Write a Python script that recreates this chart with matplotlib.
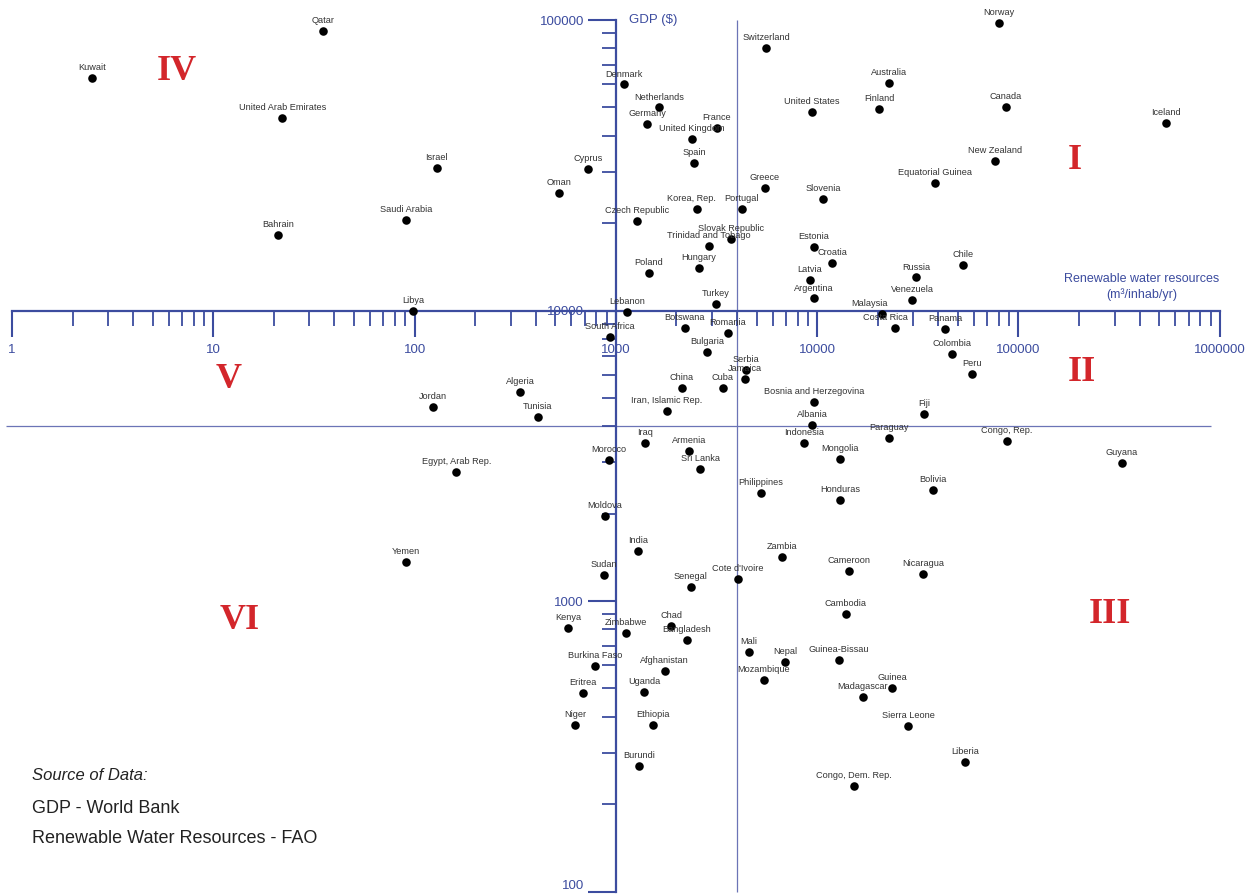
import matplotlib
matplotlib.use("Agg")
import matplotlib.pyplot as plt
from matplotlib.ticker import FixedLocator, FuncFormatter, NullFormatter

plt.rcParams["font.family"] = ["Liberation Sans", "DejaVu Sans"]

# renewable water resources (m3/inhab/yr) and GDP per capita ($)
countries = [
    "Qatar", "Kuwait", "United Arab Emirates", "Israel", "Saudi Arabia", "Bahrain", "Libya",
    "Switzerland", "Denmark", "Netherlands", "Germany", "France", "United Kingdom", "Spain",
    "Cyprus", "Oman", "Greece", "Korea, Rep.", "Portugal", "Czech Republic", "Slovak Republic",
    "Trinidad and Tobago", "Hungary", "Poland", "Turkey", "Lebanon", "Botswana", "Romania",
    "South Africa", "Norway", "Australia", "United States", "Finland", "Canada", "Iceland",
    "New Zealand", "Equatorial Guinea", "Slovenia", "Estonia", "Croatia", "Latvia", "Argentina",
    "Chile", "Russia", "Venezuela", "Malaysia", "Costa Rica", "Panama", "Colombia", "Bulgaria",
    "Serbia", "Jamaica", "Cuba", "China", "Iran, Islamic Rep.", "Iraq", "Armenia", "Morocco",
    "Sri Lanka", "Peru", "Bosnia and Herzegovina", "Fiji", "Albania", "Indonesia", "Paraguay",
    "Congo, Rep.", "Mongolia", "Guyana", "Bolivia", "Honduras", "Philippines", "Jordan",
    "Algeria", "Tunisia", "Egypt, Arab Rep.", "Moldova", "Yemen", "India", "Sudan", "Zambia",
    "Cameroon", "Nicaragua", "Cote d'Ivoire", "Senegal", "Cambodia", "Chad", "Bangladesh",
    "Zimbabwe", "Kenya", "Mali", "Nepal", "Guinea-Bissau", "Mozambique", "Burkina Faso",
    "Afghanistan", "Eritrea", "Uganda", "Niger", "Ethiopia", "Burundi", "Guinea", "Madagascar",
    "Sierra Leone", "Liberia", "Congo, Dem. Rep.",
]
water = [
    35, 2.5, 22, 129, 91, 21, 98,
    5600, 1100, 1640, 1430, 3180, 2390, 2440,
    730, 520, 5500, 2530, 4230, 1270, 3730,
    2900, 2590, 1460, 3140, 1135, 2200, 3600,
    935, 80000, 22700, 9400, 20300, 86700, 540000,
    76400, 38500, 10700, 9640, 11900, 9200, 9640,
    53000, 30900, 29600, 21000, 24400, 43100, 46700, 2840,
    4430, 4380, 3400, 2130, 1790, 1400, 2310, 925,
    2620, 58700, 9640, 33900, 9420, 8600, 22700,
    87700, 13000, 327000, 37600, 13000, 5260, 123,
    334, 410, 161, 883, 91, 1290, 873, 6680,
    14400, 33500, 4040, 2360, 13900, 1880, 2255,
    1120, 578, 4580, 6920, 12800, 5445, 787,
    1750, 687, 1380, 626, 1530, 1300, 23500, 16900,
    28300, 54200, 15200,
]
gdp = [
    92000, 63000, 46000, 31000, 20500, 18200, 9950,
    80000, 60000, 50000, 44000, 42500, 39000, 32200,
    30700, 25400, 26400, 22300, 22300, 20300, 17600,
    16700, 14000, 13500, 10500, 9880, 8700, 8400,
    8100, 97700, 60700, 48200, 49400, 50100, 44200,
    32700, 27500, 24200, 16600, 14600, 12700, 11000,
    14400, 13000, 10900, 9730, 8700, 8640, 7080, 7190,
    6240, 5810, 5410, 5410, 4510, 3500, 3280, 3055,
    2845, 6040, 4840, 4400, 4040, 3500, 3640,
    3550, 3080, 2990, 2410, 2230, 2350, 4650,
    5240, 4300, 2780, 1960, 1360, 1490, 1230, 1420,
    1270, 1240, 1190, 1117, 902, 820, 734,
    776, 807, 667, 617, 627, 535, 597,
    574, 482, 486, 374, 374, 270, 501, 467,
    371, 279, 231,
]

x_decades = [1, 10, 100, 1000, 10000, 100000, 1000000]
y_decades = [100, 1000, 10000, 100000]

water_split = 4000
gdp_split = 4000

blue = "#3c4c9f"
thin_blue = "#6b74b6"
red = "#d3262b"

# a few labels sit off to the left of their dot
label_shift = {"Malaysia": -9, "Costa Rica": -7, "Korea, Rep.": -4}


def minor_ticks(decades):
    return [d * k for d in decades[:-1] for k in range(2, 10)]


fig = plt.figure(figsize=(12.54, 8.96), dpi=100)
ax = fig.add_axes([0, 0, 1, 1])
ax.set_xscale("log")
ax.set_yscale("log")
ax.set_xlim(0.8718, 1.479e6)
ax.set_ylim(96.5, 117200)

# axes cross at 1000 m3 and 10000 $
for side in ("top", "right"):
    ax.spines[side].set_visible(False)
ax.spines["bottom"].set_position(("data", 10000))
ax.spines["left"].set_position(("data", 1000))
ax.spines["bottom"].set_bounds(x_decades[0], x_decades[-1])
ax.spines["left"].set_bounds(y_decades[0], y_decades[-1])
for side in ("bottom", "left"):
    ax.spines[side].set_color(blue)
    ax.spines[side].set_linewidth(1.6)
    ax.spines[side].set_zorder(2)

ax.xaxis.set_major_locator(FixedLocator(x_decades))
ax.xaxis.set_minor_locator(FixedLocator(minor_ticks(x_decades)))
ax.yaxis.set_major_locator(FixedLocator(y_decades))
ax.yaxis.set_minor_locator(FixedLocator(minor_ticks(y_decades)))
fmt = FuncFormatter(lambda v, _: f"{v:.0f}")
ax.xaxis.set_major_formatter(fmt)
ax.yaxis.set_major_formatter(fmt)
ax.xaxis.set_minor_formatter(NullFormatter())
ax.yaxis.set_minor_formatter(NullFormatter())

ax.tick_params(axis="x", which="major", direction="out", length=19, width=1.5,
               color=blue, labelcolor=blue, labelsize=9.5, pad=5)
ax.tick_params(axis="x", which="minor", direction="out", length=11, width=1.3, color=blue)
ax.tick_params(axis="y", which="major", direction="out", length=20, width=1.5,
               color=blue, labelcolor=blue, labelsize=9.5, pad=3)
ax.tick_params(axis="y", which="minor", direction="out", length=10, width=1.3, color=blue)

# the lowest GDP label sits on its tick so it stays inside the figure
ax.yaxis.get_major_ticks()[0].label1.set_verticalalignment("bottom")

# quadrant dividers
ax.vlines(water_split, 100, 1e5, color=thin_blue, linewidth=0.9, zorder=1)
ax.hlines(gdp_split, 0.93, 9e5, color=thin_blue, linewidth=0.9, zorder=1)

ax.scatter(water, gdp, s=38, color="black", zorder=4, linewidths=0)
for name, x, y in zip(countries, water, gdp):
    ax.annotate(name, (x, y), xytext=(label_shift.get(name, 0), 7.5),
                textcoords="offset points", ha="center", va="center",
                fontsize=6.6, color="#333333", zorder=5)

fig.text(629 / 1254, 1 - 20 / 896, "GDP ($)", color=blue, fontsize=9.5,
         ha="left", va="center")
fig.text(1142 / 1254, 1 - 287 / 896, "Renewable water resources\n(m\u00b3/inhab/yr)",
         color=blue, fontsize=9, ha="center", va="center", linespacing=1.25)

quadrants = [("I", 0.857, 0.821), ("II", 0.863, 0.584), ("III", 0.885, 0.314),
             ("IV", 0.141, 0.920), ("V", 0.182, 0.576), ("VI", 0.191, 0.307)]
for numeral, qx, qy in quadrants:
    fig.text(qx, qy, numeral, color=red, fontsize=26, fontweight="bold",
             family="Liberation Serif", ha="center", va="center")

fig.text(0.0255, 1 - 775 / 896, "Source of Data:", style="italic", fontsize=12,
         color="#222222", va="center")
fig.text(0.0255, 1 - 808 / 896, "GDP - World Bank", fontsize=13, color="#222222", va="center")
fig.text(0.0255, 1 - 838 / 896, "Renewable Water Resources - FAO", fontsize=13,
         color="#222222", va="center")

fig.savefig("out.png", dpi=100)
